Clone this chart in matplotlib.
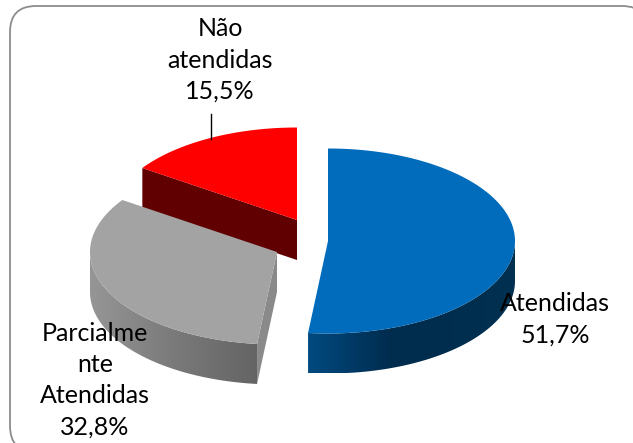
import numpy as np
import matplotlib
matplotlib.use('Agg')
import matplotlib.pyplot as plt
from matplotlib.patches import Polygon, FancyBboxPatch
from matplotlib.colors import LinearSegmentedColormap

plt.rcParams['font.family'] = ['Lato', 'DejaVu Sans']

# Datos
categorias = ['Atendidas', 'Parcialmente Atendidas', 'Não atendidas']
valores = [51.7, 32.8, 15.5]
etiquetas = ['Atendidas\n51,7%', 'Parcialme\nnte\nAtendidas\n32,8%', 'Não\natendidas\n15,5%']
colores = ['#006cbb', '#a3a3a3', '#ff0000']
centros = [(328, 241), (277, 252), (297, 220)]
pared_izq = ['#004a80', '#969696', '#600000']
pared_med = ['#002c4e', '#7a7a7a', '#600000']
pared_der = ['#003050', '#646464', '#600000']
pos_etiquetas = [(555, 319), (95, 380), (220, 60)]

RX, RY, PROF = 187, 92.5, 40

fig = plt.figure(figsize=(6.33, 4.43), dpi=100)
ax = fig.add_axes([0, 0, 1, 1])
ax.set_xlim(0, 633)
ax.set_ylim(443, 0)
ax.axis('off')

# marco redondeado
ax.add_patch(FancyBboxPatch((10, 6), 638, 446, boxstyle='round,pad=0,rounding_size=26',
                            fc='white', ec='#8c8c8c', lw=1.3, zorder=0))


def punto(c, ang):
    # angulo en grados, sentido horario desde arriba
    r = np.radians(ang)
    return c[0] + RX * np.sin(r), c[1] - RY * np.cos(r)


def pared_arco(c, a0, a1, paradas, z):
    # pared lateral con degradado horizontal
    angs = np.linspace(a0, a1, 80)
    xs, ys = punto(c, angs)
    verts = list(zip(xs, ys + PROF)) + list(zip(xs[::-1], ys[::-1]))
    parche = Polygon(verts, closed=True, fc='none', ec='none', zorder=z)
    ax.add_patch(parche)
    cmap = LinearSegmentedColormap.from_list('p', paradas)
    grad = np.linspace(1, 0, 256)[None, :]
    im = ax.imshow(grad, extent=(xs.min(), xs.max(), ys.max() + PROF, ys.min()), aspect='auto',
                   cmap=cmap, vmin=0, vmax=1, zorder=z, interpolation='bilinear')
    im.set_clip_path(parche)


def tapa(c, a0, a1, color, z):
    angs = np.linspace(a0, a1, 120)
    xs, ys = punto(c, angs)
    verts = [c] + list(zip(xs, ys)) + [c]
    ax.add_patch(Polygon(verts, closed=True, fc=color, ec='none', zorder=z))


# angulos a partir de los valores
ini_az = 0
ini_gr = ini_az + valores[0] * 3.6
ini_ro = ini_gr + valores[1] * 3.6

# rojo: pared del corte y tapa
xr, yr = punto(centros[2], ini_ro)
ax.add_patch(Polygon([(xr, yr), centros[2], (centros[2][0], centros[2][1] + PROF), (xr, yr + PROF)],
                     closed=True, fc=pared_izq[2], ec='none', zorder=2))
tapa(centros[2], ini_ro, 360, colores[2], 3)

# gris
pared_arco(centros[1], ini_gr, 270, [(0, pared_der[1]), (0.5, pared_med[1]), (1, pared_izq[1])], 4)
xg, yg = punto(centros[1], ini_gr)
ax.add_patch(Polygon([centros[1], (xg, yg), (xg, yg + PROF), (centros[1][0], centros[1][1] + PROF)],
                     closed=True, fc='#8a8a8a', ec='none', zorder=4))
tapa(centros[1], ini_gr, ini_ro, colores[1], 5)

# azul
pared_arco(centros[0], 90, ini_gr, [(0, pared_der[0]), (0.6, pared_med[0]), (1, pared_izq[0])], 6)
tapa(centros[0], ini_az, ini_gr, colores[0], 7)

# linea guia de la etiqueta roja
ax.plot([211, 211], [114, 139], color='black', lw=1, zorder=8)

for (x, y), txt in zip(pos_etiquetas, etiquetas):
    ax.text(x, y, txt, ha='center', va='center', fontsize=18, color='black',
            linespacing=1.43, zorder=9)

fig.savefig('out.png', dpi=100)
